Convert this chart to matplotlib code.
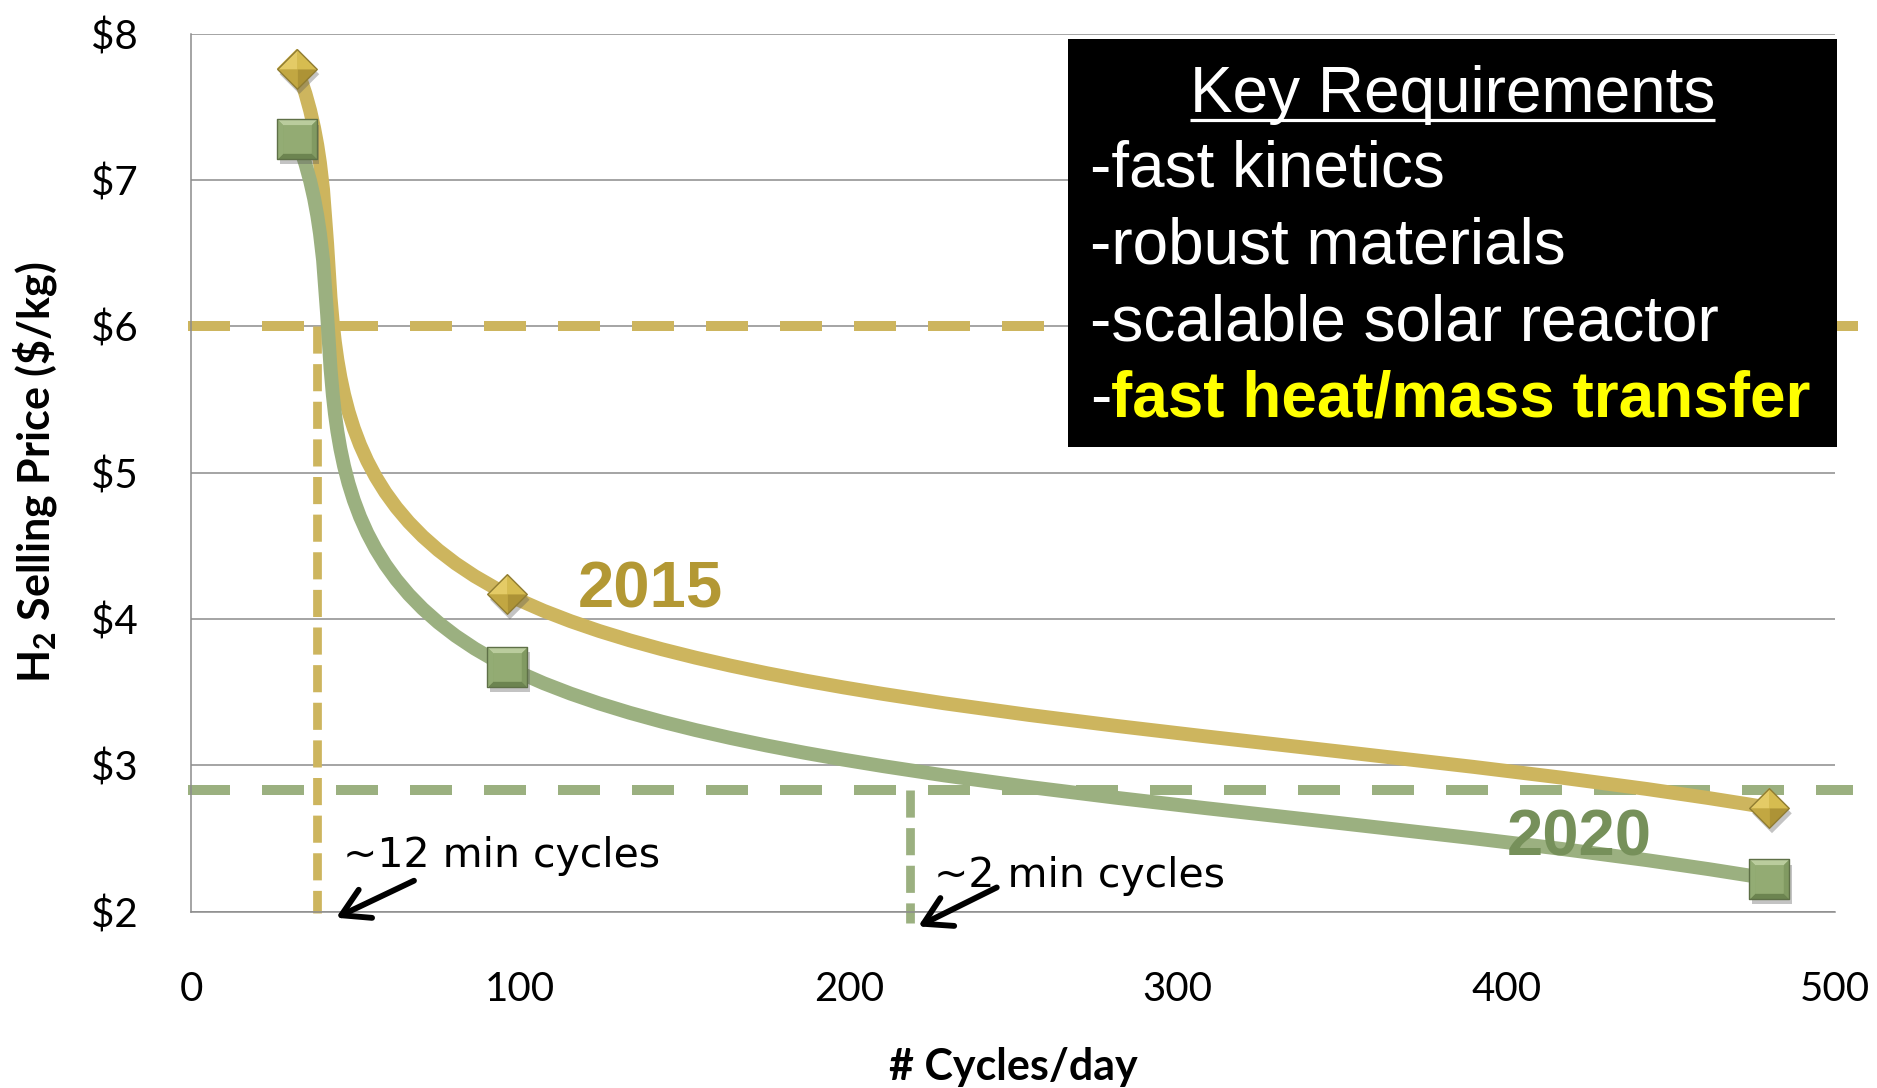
import numpy as np
import matplotlib
matplotlib.use('Agg')
import matplotlib.pyplot as plt
import matplotlib.patheffects as pe
from matplotlib.path import Path
from matplotlib.patches import PathPatch, Rectangle

# cycles per day and hydrogen selling price for the two targets
cycles = [32, 96, 480]
price_2015 = [7.76, 4.17, 2.71]
price_2020 = [7.28, 3.675, 2.225]

# cost targets and the cycle rates where they are met
target_2015 = 6.0
target_2020 = 2.83
cycles_2015 = 38.3
cycles_2020 = 218.6

x_ticks = [0, 100, 200, 300, 400, 500]
y_ticks = [2, 3, 4, 5, 6, 7, 8]
y_tick_labels = ['$2', '$3', '$4', '$5', '$6', '$7', '$8']

requirements = ['-fast kinetics', '-robust materials', '-scalable solar reactor']
highlight = 'fast heat/mass transfer'

gold = '#CDB55E'
green = '#9BB080'
grid_gray = '#8C8C8C'

plt.rcParams['font.family'] = 'Lato'
plt.rcParams['mathtext.fontset'] = 'custom'
plt.rcParams['mathtext.rm'] = 'Lato'
plt.rcParams['mathtext.bf'] = 'Lato:bold'


def smooth_path(xs, ys):
    # spreadsheet-style smoothed line: cubic beziers with catmull-rom tangents,
    # end tangents taken from mirrored ghost points
    pts = np.column_stack([xs, ys]).astype(float)
    pts = np.vstack([2 * pts[0] - pts[1], pts, 2 * pts[-1] - pts[-2]])
    verts = [pts[1]]
    for i in range(1, len(pts) - 2):
        verts += [pts[i] + (pts[i + 1] - pts[i - 1]) / 6,
                  pts[i + 1] - (pts[i + 2] - pts[i]) / 6,
                  pts[i + 1]]
    codes = [Path.MOVETO] + [Path.CURVE4] * (len(verts) - 1)
    return Path(verts, codes)


def shape(verts):
    return Path(list(verts) + [verts[0]], closed=True)


shadow = [pe.SimplePatchShadow(offset=(2, -4), shadow_rgbFace='#555555', alpha=0.35), pe.Normal()]

diamond = [(0, 1), (1, 0), (0, -1), (-1, 0)]
diamond_faces = [
    ([(0, 0), (-1, 0), (0, 1)], '#E4CB66'),
    ([(0, 0), (0, 1), (1, 0)], '#D6BC50'),
    ([(0, 0), (1, 0), (0, -1)], '#AD9336'),
    ([(0, 0), (0, -1), (-1, 0)], '#C2A742'),
]
square = [(-1, -1), (1, -1), (1, 1), (-1, 1)]
bevel = 0.72
square_faces = [
    ([(-1, 1), (1, 1), (bevel, bevel), (-bevel, bevel)], '#BACC9D'),
    ([(1, 1), (1, -1), (bevel, -bevel), (bevel, bevel)], '#819A62'),
    ([(-1, -1), (1, -1), (bevel, -bevel), (-bevel, -bevel)], '#6C8450'),
    ([(-1, -1), (-1, 1), (-bevel, bevel), (-bevel, -bevel)], '#93AC74'),
]


def bevel_markers(ax, x, y, outline, faces, center, fill, edge, size):
    ax.plot(x, y, ls='none', marker=shape(outline), ms=size, mfc=fill, mec='none',
            zorder=4, path_effects=shadow)
    for verts, col in faces:
        ax.plot(x, y, ls='none', marker=shape(verts), ms=size, mfc=col, mec='none', zorder=4)
    if center is not None:
        ax.plot(x, y, ls='none', marker='s', ms=size * bevel, mfc=center, mec='none', zorder=4)
    ax.plot(x, y, ls='none', marker=shape(outline), ms=size, mfc='none', mec=edge,
            mew=1.0, zorder=4)


fig = plt.figure(figsize=(18.77, 10.88), dpi=100)
ax = fig.add_axes([0.102, 0.1620, 0.8756, 0.8072])

# target lines
ax.plot([-1, 513], [target_2015, target_2015], color=gold, lw=7.2, dashes=(4.2, 3.2),
        clip_on=False, zorder=2)
ax.plot([cycles_2015, cycles_2015], [target_2015, 1.99], color=gold, lw=6.3,
        dashes=(3.1, 1.2), clip_on=False, zorder=2)
ax.plot([-1, 505.5], [target_2020, target_2020], color=green, lw=7.2, dashes=(4.2, 3.2),
        clip_on=False, zorder=2)
ax.plot([cycles_2020, cycles_2020], [target_2020, 1.92], color=green, lw=6.3,
        dashes=(3.1, 1.2), clip_on=False, zorder=2)

# price curves
ax.add_patch(PathPatch(smooth_path(cycles, price_2015), fill=False, ec=gold, lw=10,
                       capstyle='round', zorder=3))
ax.add_patch(PathPatch(smooth_path(cycles, price_2020), fill=False, ec=green, lw=10,
                       capstyle='round', zorder=3))

bevel_markers(ax, cycles, price_2015, diamond, diamond_faces, None,
              '#CDB247', '#8F7C33', 28.5)
bevel_markers(ax, cycles, price_2020, square, square_faces, '#93AB73',
              '#8FA86E', '#5E7047', 28.5)

ax.text(139.7, 4.081, '2015', family='Liberation Sans', weight='bold', fontsize=47,
        color='#B39834', ha='center', va='baseline', zorder=5)
ax.text(422.1, 2.383, '2020', family='Liberation Sans', weight='bold', fontsize=47,
        color='#76905A', ha='center', va='baseline', zorder=5)

# cycle time call-outs
ax.text(46.0, 2.303, '~12 min cycles', family='DejaVu Sans', fontsize=29.5,
        ha='left', va='baseline', zorder=5)
ax.text(226.0, 2.171, '~2 min cycles', family='DejaVu Sans', fontsize=29.5,
        ha='left', va='baseline', zorder=5)
arrow = dict(arrowstyle='->,head_length=0.6,head_width=0.35', lw=4.2, color='black',
             mutation_scale=32, shrinkA=0, shrinkB=0)
ax.annotate('', xy=(44.0, 1.959), xytext=(67.7, 2.212), arrowprops=arrow,
            annotation_clip=False, zorder=5)
ax.annotate('', xy=(221.1, 1.90), xytext=(245.0, 2.166), arrowprops=arrow,
            annotation_clip=False, zorder=5)

# requirements box
ax.add_patch(Rectangle((0.5336, 0.5295), 0.4676, 0.4639, transform=ax.transAxes,
                       facecolor='black', edgecolor='none', clip_on=False, zorder=6))
title = ax.text(0.7674, 0.911, 'Key Requirements', transform=ax.transAxes,
                family='Liberation Sans', fontsize=46, color='white',
                ha='center', va='baseline', zorder=7)
for i, item in enumerate(requirements):
    ax.text(0.5465, 0.8255 - i * 0.0873, item, transform=ax.transAxes,
            family='Liberation Sans', fontsize=46, color='white',
            ha='left', va='baseline', zorder=7)
dash = ax.text(0.5465, 0.5636, '-', transform=ax.transAxes, family='Liberation Sans',
               fontsize=46, color='white', ha='left', va='baseline', zorder=7)
ax.annotate(highlight, xy=(1, 0.5636), xycoords=(dash, 'axes fraction'),
            family='Liberation Sans', weight='bold', fontsize=46, color='#FFFF00',
            ha='left', va='baseline', zorder=7)

ax.set_xlim(0, 500)
ax.set_ylim(2, 8)
ax.set_xticks(x_ticks)
ax.set_yticks(y_ticks)
ax.set_yticklabels(y_tick_labels)
ax.tick_params(length=0, labelsize=29)
ax.tick_params(axis='x', pad=43)
ax.tick_params(axis='y', pad=39)
ax.grid(axis='y', color=grid_gray, lw=1.1)
ax.set_axisbelow(True)
for side in ['top', 'right']:
    ax.spines[side].set_visible(False)
for side in ['left', 'bottom']:
    ax.spines[side].set_color(grid_gray)
    ax.spines[side].set_linewidth(1.1)

ax.set_xlabel('# Cycles/day', fontsize=31, weight='bold')
ax.xaxis.set_label_coords(0.5, -0.1916)
ax.xaxis.label.set_va('baseline')
ax.set_ylabel(r'H$_\mathbf{2}$ Selling Price (\$/kg)', fontsize=31, weight='bold')
ax.yaxis.set_label_coords(-0.0861, 0.5)
ax.yaxis.label.set_va('baseline')
ax.yaxis.label.set_rotation_mode('anchor')

# underline the box heading
fig.canvas.draw()
bb = title.get_window_extent().transformed(ax.transAxes.inverted())
ax.plot([bb.x0, bb.x1], [0.9015, 0.9015], transform=ax.transAxes, color='white', lw=2.3,
        solid_capstyle='butt', clip_on=False, zorder=7)

fig.savefig('out.png', dpi=100)
